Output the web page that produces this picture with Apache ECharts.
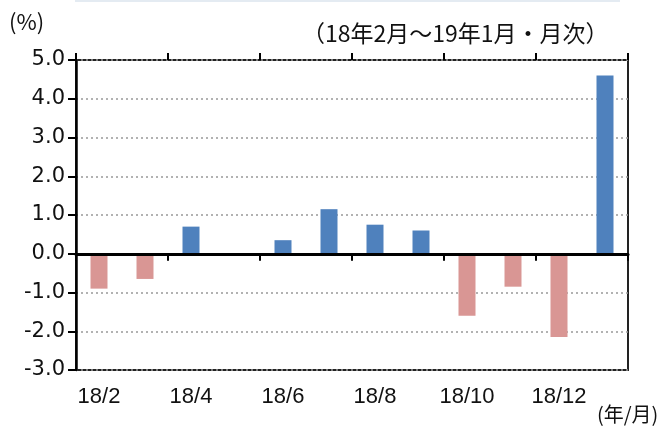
<!DOCTYPE html>
<html><head><meta charset="utf-8">
<script src="https://cdn.jsdelivr.net/npm/echarts@6/dist/echarts.min.js"></script>
<style>html,body{margin:0;padding:0;background:#fff}#c{width:669px;height:430px}</style>
</head><body><div id="c"></div>
<script>
const categories = ['18/2','18/3','18/4','18/5','18/6','18/7','18/8','18/9','18/10','18/11','18/12','19/1'];
const values = [-0.9,-0.65,0.7,0,0.35,1.15,0.75,0.6,-1.6,-0.85,-2.15,4.6];
const yMin = -3, yMax = 5, yStep = 1;
const subtitle = '（18年2月～19年1月・月次）';
const unitLabel = '(%)';
const xUnitLabel = '(年/月)';

const POS = '#4F81BD', NEG = '#D99694';
const CJK = '"Noto Sans CJK JP", sans-serif';
const chart = echarts.init(document.getElementById('c'), null, {renderer:'canvas'});
const gridRect = {left:76, right:41, top:60, bottom:60};
chart.setOption({
  animation:false,
  graphic:[
    {type:'line', shape:{x1:75,y1:1,x2:620,y2:1}, style:{stroke:'#e4ebf2', lineWidth:2}, silent:true},
    {type:'text', left:9, top:11, style:{text:unitLabel, fontSize:22, fontFamily:CJK, fill:'#111'}},
    {type:'text', left:302, top:22, style:{text:subtitle, fontSize:23, fontFamily:CJK, fill:'#111'}},
    {type:'text', left:597, top:404, style:{text:xUnitLabel, fontSize:20, fontFamily:CJK, fill:'#111'}}
  ],
  grid:[
    Object.assign({show:true, borderColor:'#222', borderWidth:2, backgroundColor:'transparent'}, gridRect),
    Object.assign({show:false}, gridRect)
  ],
  xAxis:[
    {type:'category', gridIndex:0, data:categories, position:'bottom',
      axisLine:{onZero:true, lineStyle:{color:'#000', width:3}},
      axisTick:{show:true, interval:1, length:7, lineStyle:{color:'#000', width:2}},
      axisLabel:{show:false}, splitLine:{show:false}, z:5},
    {type:'category', gridIndex:0, data:categories, position:'top',
      axisLine:{onZero:true, show:false},
      axisTick:{show:true, interval:1, length:7, lineStyle:{color:'#000', width:2}},
      axisLabel:{show:false}, splitLine:{show:false}},
    {type:'category', gridIndex:1, data:categories, position:'bottom',
      axisLine:{show:false}, axisTick:{show:false},
      axisLabel:{interval:1, color:'#111', fontSize:22, fontFamily:'"Liberation Sans", Arial', margin:16}}
  ],
  yAxis:[
    {type:'value', gridIndex:0, min:yMin, max:yMax, interval:yStep,
      axisLine:{show:true, lineStyle:{color:'#000', width:2.5}},
      axisTick:{show:true, length:8, lineStyle:{color:'#000', width:2}},
      axisLabel:{formatter:v=>v.toFixed(1), color:'#111', fontSize:21, fontFamily:'"DejaVu Sans", Verdana', margin:11},
      splitLine:{show:true, lineStyle:{color:'#999', type:[2,3], width:1.5}}},
    {type:'value', gridIndex:1, min:yMin, max:yMax, interval:yStep, show:false}
  ],
  series:[{
    type:'bar', xAxisIndex:0, yAxisIndex:0, barWidth:17,
    data: values.map(v=>({value:v, itemStyle:{color: v<0?NEG:POS}}))
  }]
});
</script></body></html>
